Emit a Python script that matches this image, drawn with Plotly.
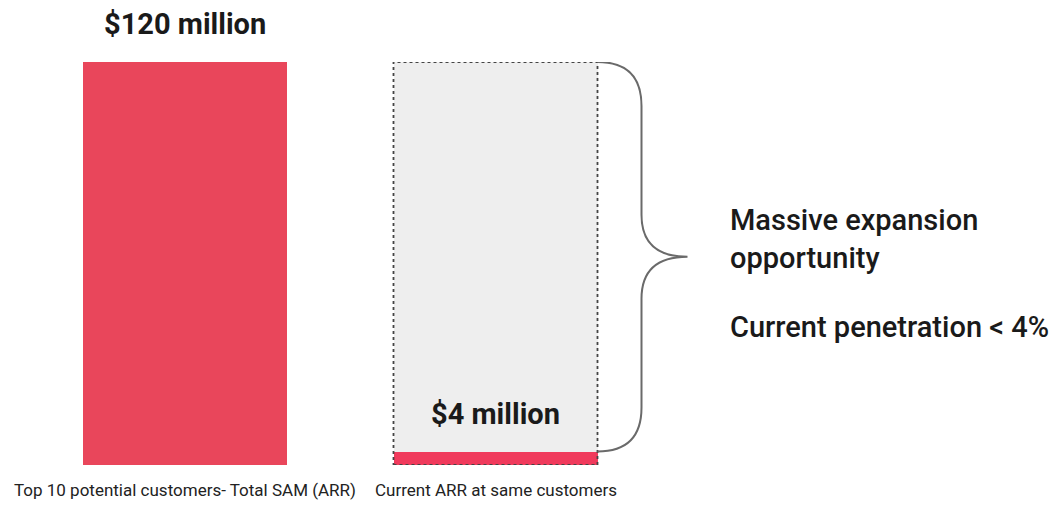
import plotly.graph_objects as go

# ---- data ----
categories = ["Top 10 potential customers- Total SAM (ARR)", "Current ARR at same customers"]
positions = [0, 1]
total_sam = [120, 120]          # total addressable (left bar value, right bar background)
current_arr = [None, 4]         # current ARR at the same customers
value_labels = ["$120 million", "$4 million"]
side_lines = ["Massive expansion<br>opportunity", "Current penetration < 4%"]

RED = "#E9465B"
RED2 = "#F03A5C"
GREY = "#EEEEEE"
W = 0.657
FONT = "Roboto"

# page has an 8px body margin; the figure is sized/placed to compensate
FIG_W, FIG_H = 1053, 498
OFF = 8

fig = go.Figure()
fig.add_trace(go.Bar(x=[positions[0]], y=[total_sam[0]], width=W,
                     marker=dict(color=RED, line=dict(width=0)), hoverinfo="skip"))
fig.add_trace(go.Bar(x=[positions[1]], y=[total_sam[1]], width=W,
                     marker=dict(color=GREY, line=dict(width=0)), hoverinfo="skip"))
fig.add_trace(go.Bar(x=[positions[1]], y=[current_arr[1]], width=W,
                     marker=dict(color=RED2, line=dict(width=0)), hoverinfo="skip"))

fig.add_shape(type="rect", xref="x", yref="y",
              x0=positions[1] - W / 2, x1=positions[1] + W / 2, y0=0, y1=total_sam[1],
              line=dict(color="#444444", width=1.8, dash="dot"), fillcolor="rgba(0,0,0,0)",
              layer="above")

px_per_x = 310.5
px_per_y = 403 / 120
xr = positions[1] + W / 2
xv = xr + 44 / px_per_x
xt = xr + 90 / px_per_x
yt = total_sam[1]
yb = current_arr[1]
ym = (yt + yb) / 2
r = 44 / px_per_y
rt = 42 / px_per_y
path = (f"M {xr},{yt} Q {xv},{yt} {xv},{yt - r} L {xv},{ym + rt} "
        f"Q {xv},{ym} {xt},{ym} Q {xv},{ym} {xv},{ym - rt} "
        f"L {xv},{yb + r} Q {xv},{yb} {xr},{yb}")
fig.add_shape(type="path", xref="x", yref="y", path=path,
              line=dict(color="#6a6a6a", width=2))

fig.add_annotation(x=positions[0], y=total_sam[0], xref="x", yref="y", text=value_labels[0],
                   showarrow=False, yanchor="middle", yshift=38, borderpad=0,
                   font=dict(family=FONT, size=29, color="#1a1a1a", weight="bold"))
fig.add_annotation(x=positions[1], y=current_arr[1], xref="x", yref="y", text=value_labels[1],
                   showarrow=False, yanchor="middle", yshift=38,
                   font=dict(family=FONT, size=29, color="#1a1a1a", weight="bold"))

for p, c in zip(positions, categories):
    fig.add_annotation(x=p, y=0, xref="x", yref="y", text=c, showarrow=False,
                       yanchor="middle", yshift=-25,
                       font=dict(family=FONT, size=17, color="#222222"))

plot_top, plot_bot = 62 - OFF, 62 - OFF + 403
fig.add_annotation(x=(728 - OFF) / FIG_W, y=(plot_bot - (239 - OFF)) / 403, xref="paper", yref="paper",
                   text=side_lines[0], showarrow=False, xanchor="left", yanchor="middle",
                   align="left", font=dict(family=FONT, size=29, color="#1a1a1a", weight=500))
fig.add_annotation(x=(728 - OFF) / FIG_W, y=(plot_bot - (327 - OFF)) / 403, xref="paper", yref="paper",
                   text=side_lines[1], showarrow=False, xanchor="left", yanchor="middle",
                   align="left", font=dict(family=FONT, size=29, color="#1a1a1a", weight=500))

cx0 = 185 - OFF
fig.update_layout(
    width=FIG_W, height=FIG_H,
    margin=dict(l=0, r=0, t=plot_top, b=FIG_H - plot_bot),
    barmode="overlay",
    bargap=0,
    showlegend=False,
    plot_bgcolor="white", paper_bgcolor="white",
    xaxis=dict(range=[-cx0 / px_per_x, (FIG_W - cx0) / px_per_x], visible=False, fixedrange=True),
    yaxis=dict(range=[0, 120], visible=False, fixedrange=True),
)

fig.write_html("out.html")
